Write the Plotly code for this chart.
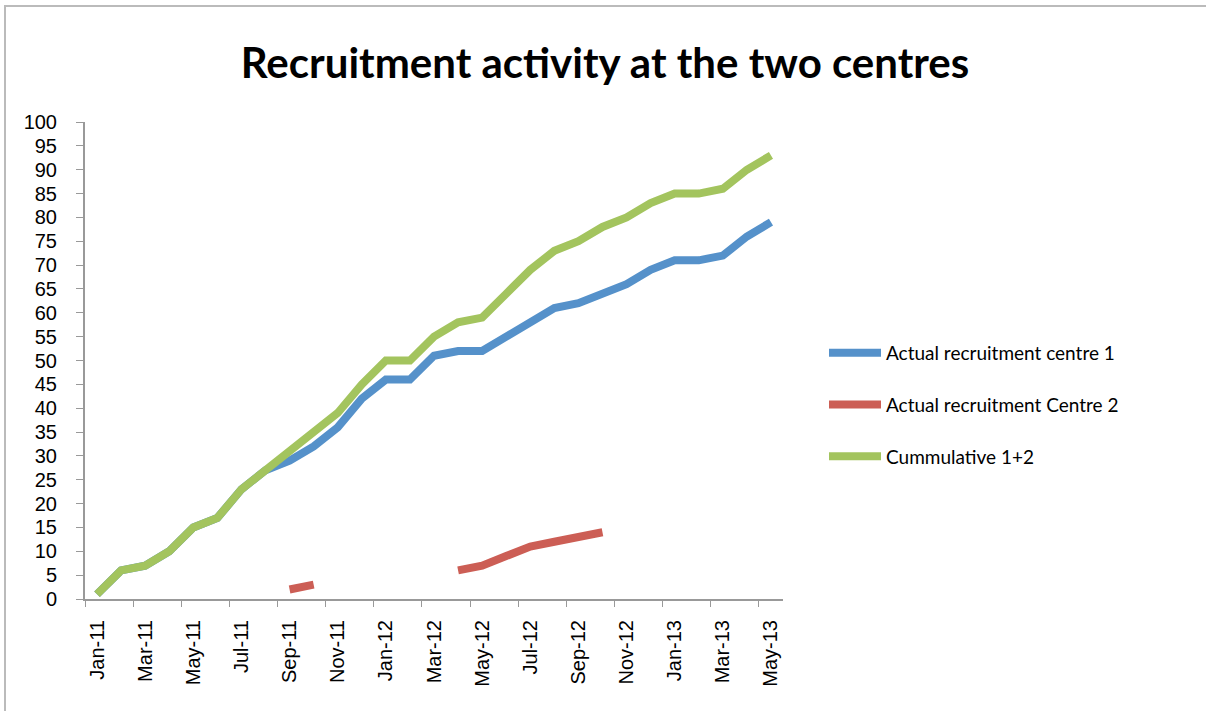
import plotly.graph_objects as go

months = ["Jan-11","Feb-11","Mar-11","Apr-11","May-11","Jun-11","Jul-11","Aug-11","Sep-11","Oct-11",
          "Nov-11","Dec-11","Jan-12","Feb-12","Mar-12","Apr-12","May-12","Jun-12","Jul-12","Aug-12",
          "Sep-12","Oct-12","Nov-12","Dec-12","Jan-13","Feb-13","Mar-13","Apr-13","May-13"]

centre1 = [1, 6, 7, 10, 15, 17, 23, 27, 29, 32, 36, 42, 46, 46, 51, 52, 52, 55, 58, 61,
           62, 64, 66, 69, 71, 71, 72, 76, 79]
centre2 = [None, None, None, None, None, None, None, None, 2, 3, None, None, None, None, None, 6, 7, 9, 11, 12,
           13, 14, None, None, None, None, None, None, None]
cumulative = [1, 6, 7, 10, 15, 17, 23, 27, 31, 35, 39, 45, 50, 50, 55, 58, 59, 64, 69, 73,
              75, 78, 80, 83, 85, 85, 86, 90, 93]

names = ["Actual recruitment centre 1", "Actual recruitment Centre 2", "Cummulative 1+2"]
colors = ["#5591CA", "#CC5E55", "#A3C45E"]
series = [centre1, centre2, cumulative]

W, H = 1206, 711
L, R, T, B = 85, 423, 122, 112
PW, PH = W - L - R, H - T - B

fig = go.Figure()
for i, (n, c, s) in enumerate(zip(names, colors, series)):
    fig.add_trace(go.Scatter(x=months, y=s, name=n, mode="lines",
                             line=dict(color=c, width=8), connectgaps=False,
                             legendgroup=f"g{i}"))

tickfont = dict(family="Liberation Sans, Arial, sans-serif", size=20, color="#000000")
fig.update_layout(
    width=W, height=H,
    paper_bgcolor="white", plot_bgcolor="white",
    margin=dict(l=L, r=R, t=T, b=B),
    font=dict(family="Lato, Carlito, sans-serif", size=19, color="#000000"),
    title=dict(text="<b>Recruitment activity at the two centres</b>",
               x=(605 - L) / PW, xref="paper", xanchor="center",
               y=1 - 63 / H, yanchor="middle",
               font=dict(size=42, color="#000000")),
    showlegend=True,
    legend=dict(x=(824 - L) / PW, xanchor="left", y=(599 - 334) / PH, yanchor="top",
                font=dict(size=19), tracegroupgap=24, itemwidth=52,
                bgcolor="rgba(0,0,0,0)"),
    xaxis=dict(type="category", range=[-0.5, 28.5], dtick=2, tickson="boundaries",
               tickangle=-90, ticks="outside", ticklen=6, tickcolor="#999999",
               showline=True, linecolor="#999999", linewidth=2, showgrid=False,
               tickfont=tickfont, ticklabelstandoff=11),
    yaxis=dict(range=[0, 100], dtick=5, tick0=0, ticks="outside", ticklen=7,
               tickcolor="#999999", showline=True, linecolor="#999999", linewidth=2,
               showgrid=False, zeroline=False, tickfont=tickfont, ticklabelstandoff=15),
    shapes=[dict(type="rect", xref="paper", yref="paper",
                 x0=(5 - L) / PW, x1=(1230 - L) / PW, y0=(599 - 740) / PH, y1=(599 - 6) / PH,
                 line=dict(color="#BBBBBB", width=2), fillcolor="rgba(0,0,0,0)", layer="below")],
)

fig.write_html("out.html", config={"displayModeBar": False},
               post_script="document.body.style.margin='0';document.body.style.overflow='hidden';")
